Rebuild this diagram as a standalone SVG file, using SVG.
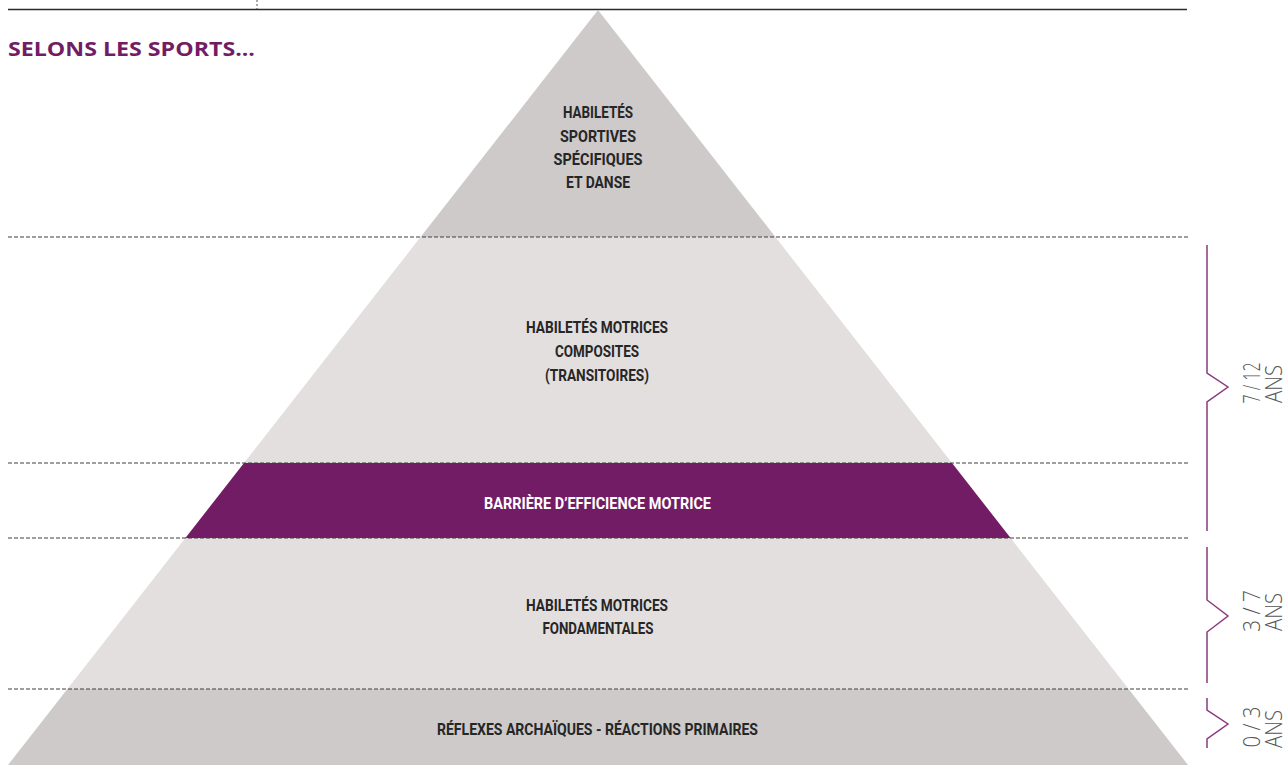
<svg xmlns="http://www.w3.org/2000/svg" width="1287" height="765" viewBox="0 0 1287 765">
<style>
.dark{fill:#cdcac9}
.light{fill:#e2dfde}
.purple{fill:#731c66}
.dash{stroke:#3f3f3f;stroke-width:1;stroke-dasharray:4 2;fill:none}
.lbl{font-family:Roboto,"Liberation Sans",sans-serif;font-weight:700;font-size:16.5px;fill:#262626;text-anchor:middle}
.wl{fill:#ffffff}
.brace{fill:none;stroke:#8b3a80;stroke-width:1.5}
.age{font-family:"Open Sans","Liberation Sans",sans-serif;font-weight:300;font-size:24.5px;fill:#555555;text-anchor:middle}
</style>
<rect width="1287" height="765" fill="#ffffff"/>
<g id="frame">
<line x1="8" y1="9.5" x2="1187" y2="9.5" stroke="#2a2a2a" stroke-width="1.5"/>
<line x1="257" y1="0" x2="257" y2="9" stroke="#555" stroke-width="1" stroke-dasharray="2 2"/>
<text x="8" y="56" font-family="'Open Sans','Liberation Sans',sans-serif" font-weight="700" font-size="19.5" fill="#731c66" textLength="247" lengthAdjust="spacingAndGlyphs">SELONS LES SPORTS...</text>
</g>
<g id="level-top">
<polygon class="dark" points="598,10 775.4,237 420.6,237"/>
<text class="lbl" x="598" y="118" textLength="70" lengthAdjust="spacingAndGlyphs">HABILETÉS</text>
<text class="lbl" x="598" y="142" textLength="76" lengthAdjust="spacingAndGlyphs">SPORTIVES</text>
<text class="lbl" x="598" y="165" textLength="89" lengthAdjust="spacingAndGlyphs">SPÉCIFIQUES</text>
<text class="lbl" x="598" y="188" textLength="64" lengthAdjust="spacingAndGlyphs">ET DANSE</text>
</g>
<g id="level-composites">
<polygon class="light" points="420.6,237 775.4,237 952,463 244,463"/>
<text class="lbl" x="597" y="333" textLength="142" lengthAdjust="spacingAndGlyphs">HABILETÉS MOTRICES</text>
<text class="lbl" x="597" y="357" textLength="84" lengthAdjust="spacingAndGlyphs">COMPOSITES</text>
<text class="lbl" x="597" y="381" textLength="104" lengthAdjust="spacingAndGlyphs">(TRANSITOIRES)</text>
</g>
<g id="level-barriere">
<polygon class="purple" points="244,463 952,463 1010.6,538 185.4,538"/>
<text class="lbl wl" x="597.5" y="509" textLength="227" lengthAdjust="spacingAndGlyphs">BARRIÈRE D’EFFICIENCE MOTRICE</text>
</g>
<g id="level-fondamentales">
<polygon class="light" points="185.4,538 1010.6,538 1128.6,689 67.4,689"/>
<text class="lbl" x="597" y="611" textLength="142" lengthAdjust="spacingAndGlyphs">HABILETÉS MOTRICES</text>
<text class="lbl" x="598" y="634" textLength="111" lengthAdjust="spacingAndGlyphs">FONDAMENTALES</text>
</g>
<g id="level-reflexes">
<polygon class="dark" points="67.4,689 1128.6,689 1188,765 8,765"/>
<text class="lbl" x="597.5" y="735" textLength="321" lengthAdjust="spacingAndGlyphs">RÉFLEXES ARCHAÏQUES - RÉACTIONS PRIMAIRES</text>
</g>
<g id="separators">
<line class="dash" x1="8" y1="237" x2="1188" y2="237"/>
<line class="dash" x1="8" y1="463" x2="1188" y2="463"/>
<line class="dash" x1="8" y1="538" x2="1188" y2="538"/>
<line class="dash" x1="8" y1="689" x2="1188" y2="689"/>
</g>
<g id="age-7-12">
<polyline class="brace" points="1207,245 1207,373 1228,387 1207,402 1207,531"/>
<text class="age" transform="translate(1260,383) rotate(-90)" textLength="41" lengthAdjust="spacingAndGlyphs">7 / 12</text>
<text class="age" transform="translate(1282,384) rotate(-90)" textLength="38" lengthAdjust="spacingAndGlyphs">ANS</text>
</g>
<g id="age-3-7">
<polyline class="brace" points="1207,547 1207,600 1228,616 1207,632 1207,683"/>
<text class="age" transform="translate(1260,611) rotate(-90)" textLength="42" lengthAdjust="spacingAndGlyphs">3 / 7</text>
<text class="age" transform="translate(1282,612) rotate(-90)" textLength="38" lengthAdjust="spacingAndGlyphs">ANS</text>
</g>
<g id="age-0-3">
<polyline class="brace" points="1207,698 1207,710 1228,724 1207,739 1207,748"/>
<text class="age" transform="translate(1260,727) rotate(-90)" textLength="41" lengthAdjust="spacingAndGlyphs">0 / 3</text>
<text class="age" transform="translate(1282,729) rotate(-90)" textLength="38" lengthAdjust="spacingAndGlyphs">ANS</text>
</g>
</svg>
